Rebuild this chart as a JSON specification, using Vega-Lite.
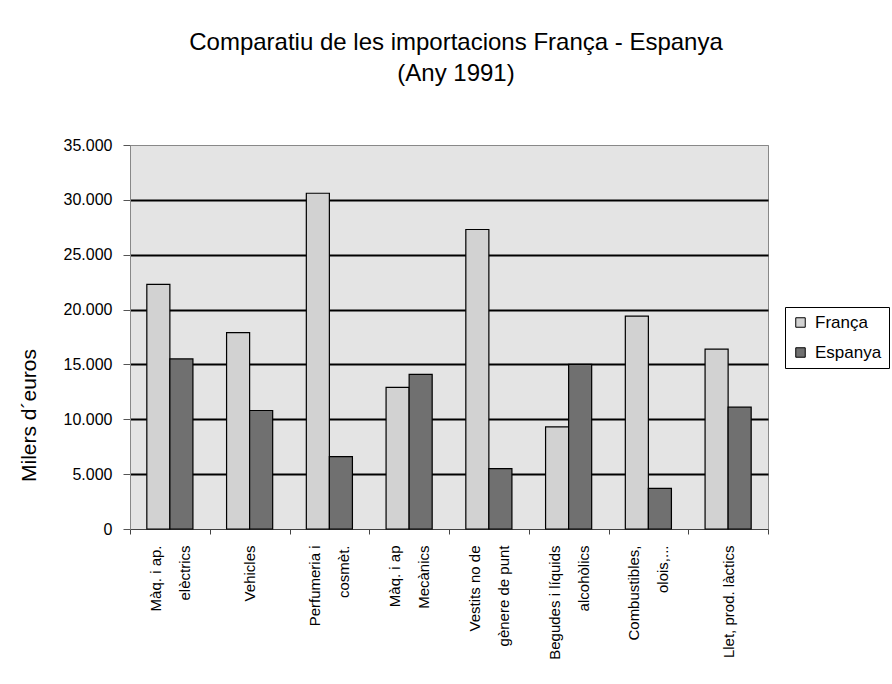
{
  "$schema": "https://vega.github.io/schema/vega-lite/v6.json",
  "width": 638,
  "height": 384,
  "autosize": {"type": "none"},
  "padding": {"left": 130, "top": 145, "right": 124, "bottom": 155},
  "background": "white",
  "config": {
    "font": "Liberation Sans",
    "view": {"fill": "#e4e4e4", "stroke": "#888888", "strokeWidth": 1}
  },
  "title": {
    "text": ["Comparatiu de les importacions França - Espanya", "(Any 1991)"],
    "fontSize": 24,
    "fontWeight": "normal",
    "color": "black",
    "lineHeight": 31,
    "anchor": "middle",
    "frame": "group",
    "baseline": "bottom",
    "offset": 27,
    "dx": 7
  },
  "data": {
    "values": [
      {"categoria": "Màq. i ap.|elèctrics", "serie": "França", "valor": 22300},
      {"categoria": "Màq. i ap.|elèctrics", "serie": "Espanya", "valor": 15500},
      {"categoria": "Vehicles", "serie": "França", "valor": 17900},
      {"categoria": "Vehicles", "serie": "Espanya", "valor": 10800},
      {"categoria": "Perfumeria i|cosmèt.", "serie": "França", "valor": 30600},
      {"categoria": "Perfumeria i|cosmèt.", "serie": "Espanya", "valor": 6600},
      {"categoria": "Màq. i ap|Mecànics", "serie": "França", "valor": 12900},
      {"categoria": "Màq. i ap|Mecànics", "serie": "Espanya", "valor": 14100},
      {"categoria": "Vestits no de|gènere de punt", "serie": "França", "valor": 27300},
      {"categoria": "Vestits no de|gènere de punt", "serie": "Espanya", "valor": 5500},
      {"categoria": "Begudes i líquids|alcohòlics", "serie": "França", "valor": 9300},
      {"categoria": "Begudes i líquids|alcohòlics", "serie": "Espanya", "valor": 15000},
      {"categoria": "Combustibles,|olois,...", "serie": "França", "valor": 19400},
      {"categoria": "Combustibles,|olois,...", "serie": "Espanya", "valor": 3700},
      {"categoria": "Llet, prod. làctics", "serie": "França", "valor": 16400},
      {"categoria": "Llet, prod. làctics", "serie": "Espanya", "valor": 11100}
    ]
  },
  "mark": {"type": "bar", "stroke": "black", "strokeWidth": 1.2},
  "encoding": {
    "x": {
      "field": "categoria",
      "type": "nominal",
      "sort": null,
      "scale": {"paddingInner": 0, "paddingOuter": 0},
      "axis": {
        "title": null,
        "labelAngle": -90,
        "labelAlign": "right",
        "labelBaseline": "middle",
        "labelExpr": "split(datum.label, '|')",
        "labelFontSize": 15,
        "labelLineHeight": 29,
        "labelColor": "black",
        "labelOverlap": false,
        "labelPadding": 11,
        "labelOffset": {"condition": {"test": "indexof(datum.label, '|') >= 0", "value": -14.5}, "value": 0},
        "tickBand": "extent",
        "tickSize": 5,
        "tickColor": "#444444",
        "domainColor": "#444444",
        "grid": false
      }
    },
    "xOffset": {
      "field": "serie",
      "type": "nominal",
      "scale": {"domain": ["França", "Espanya"], "paddingOuter": 0.73, "paddingInner": 0}
    },
    "y": {
      "field": "valor",
      "type": "quantitative",
      "scale": {"domain": [0, 35000], "nice": false},
      "axis": {
        "title": "Milers d´euros",
        "titleFontSize": 21,
        "titleFontWeight": "normal",
        "titleColor": "black",
        "titleX": -101,
        "titleY": 270,
        "titleAlign": "center",
        "titleBaseline": "middle",
        "values": [0, 5000, 10000, 15000, 20000, 25000, 30000, 35000],
        "labelExpr": "replace(format(datum.value, ','), ',', '.')",
        "labelFontSize": 16,
        "labelColor": "black",
        "labelPadding": 11,
        "tickSize": 7,
        "tickColor": "#555555",
        "domainColor": "#888888",
        "grid": true,
        "gridColor": {"condition": {"test": "datum.value === 0 || datum.value === 35000", "value": "#888888"}, "value": "black"},
        "gridWidth": {"condition": {"test": "datum.value === 0 || datum.value === 35000", "value": 1}, "value": 2},
        "gridOpacity": 1
      }
    },
    "color": {
      "field": "serie",
      "type": "nominal",
      "scale": {"domain": ["França", "Espanya"], "range": ["#d2d2d2", "#707070"]},
      "legend": {
        "title": null,
        "orient": "none",
        "legendX": 655,
        "legendY": 162,
        "padding": 7,
        "strokeColor": "black",
        "fillColor": "white",
        "symbolType": "square",
        "symbolSize": 90,
        "symbolStrokeColor": "black",
        "symbolStrokeWidth": 1,
        "symbolOpacity": 1,
        "labelFontSize": 17,
        "labelColor": "black",
        "rowPadding": 12,
        "labelOffset": 6
      }
    }
  }
}
